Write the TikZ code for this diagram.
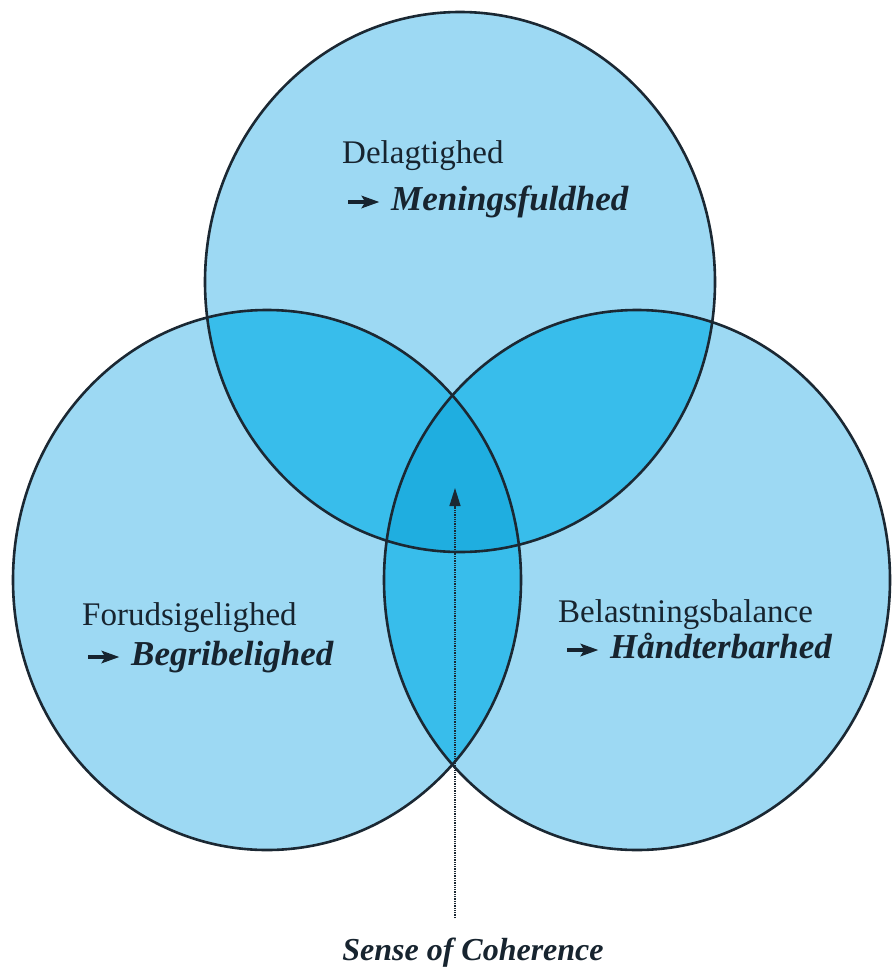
\documentclass[tikz,border=0pt]{standalone}
\usepackage{fontspec}
\setmainfont{Liberation Serif}
\usetikzlibrary{arrows.meta}
\definecolor{ringblue}{HTML}{9DD9F3}
\definecolor{pairblue}{HTML}{38BDEB}
\definecolor{coreblue}{HTML}{1FAEE0}
\definecolor{inkline}{HTML}{1B2833}
\definecolor{inktext}{HTML}{17242F}
\tikzset{ringline/.style={draw=inkline,line width=2.6pt},
    factor/.style={anchor=base west,inner sep=0,text=inktext,font=\fontsize{33}{38}\selectfont},
    outcome/.style={anchor=base west,inner sep=0,text=inktext,font=\fontsize{35}{40}\selectfont\bfseries\itshape},
    dotarrow/.style={densely dotted,line width=1.3pt,draw=inkline,-{Triangle[length=18pt,width=11pt]}}
}
\newcommand{\toppath}{(460,282) ellipse [x radius=255,y radius=270]}
\newcommand{\leftpath}{(267,580) ellipse [x radius=254,y radius=270]}
\newcommand{\rightpath}{(637,580) ellipse [x radius=253,y radius=270]}
\newcommand{\pil}
{%
    \tikz[baseline]{\fill[inktext] (0pt,6.4pt) rectangle (18pt,9.6pt);
        \fill[inktext] (13pt,1.5pt) -- (31pt,8pt) -- (13pt,14.5pt) -- (17pt,8pt) -- cycle;}%
}

\begin{document}
\begin{tikzpicture}[x=1pt,y=-1pt]

\useasboundingbox (0,0) rectangle (892,975);

% the three rings

\fill[ringblue] \toppath;
\fill[ringblue] \leftpath;
\fill[ringblue] \rightpath;

\begin{scope}
    \clip \leftpath;
    \fill[pairblue] \rightpath;
\end{scope}
\begin{scope}
    \clip \toppath;
    \fill[pairblue] \leftpath;
    \fill[pairblue] \rightpath;
    \clip \leftpath;
    \fill[coreblue] \rightpath;
\end{scope}

\draw[ringline] \toppath;
\draw[ringline] \leftpath;
\draw[ringline] \rightpath;

% labels

\node (delag) at (342,163) [factor] {Delagtighed};
\node (mening) at (348,210) [outcome] {\pil\hspace{12pt}Meningsfuldhed};

\node (forud) at (82,625) [factor] {Forudsigelighed};
\node (begrib) at (88,665) [outcome] {\pil\hspace{12pt}Begribelighed};

\node (belast) at (558,622) [factor] {Belastningsbalance};
\node (haand) at (567,658) [outcome] {\pil\hspace{12pt}Håndterbarhed};

% sense of coherence

\node (soc) at (473,960) [anchor=base,inner sep=0,text=inktext,font=\fontsize{32}{38}\selectfont\bfseries\itshape] {Sense of Coherence};
\coordinate (foot) at (455,918);
\coordinate (core) at (455,488);

\draw[dotarrow] (foot) -- (core);

\end{tikzpicture}
\end{document}
